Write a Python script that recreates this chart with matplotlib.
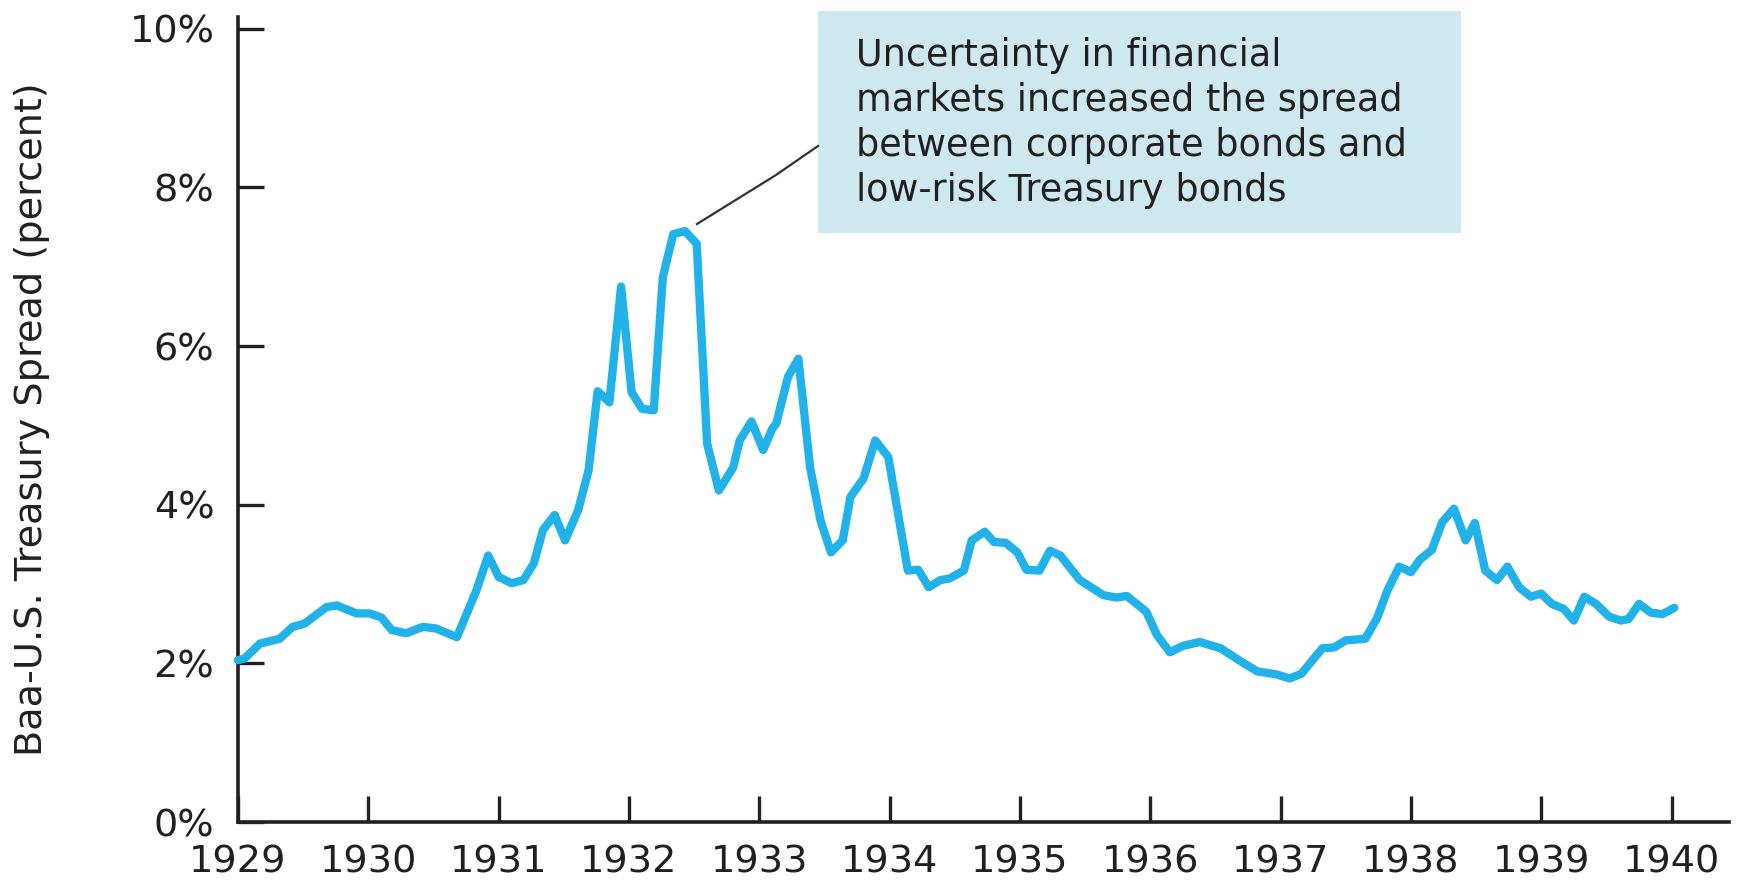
import matplotlib.pyplot as plt
from matplotlib.patches import Rectangle

# Baa - U.S. Treasury spread (decimal year, percent)
dates = [1929.00, 1929.05, 1929.17, 1929.32, 1929.42, 1929.51, 1929.68, 1929.76,
         1929.91, 1930.01, 1930.10, 1930.18, 1930.29, 1930.42, 1930.52, 1930.68,
         1930.83, 1930.92, 1931.00, 1931.10, 1931.19, 1931.27, 1931.34, 1931.43,
         1931.51, 1931.61, 1931.69, 1931.76, 1931.85, 1931.94, 1932.02, 1932.10,
         1932.19, 1932.26, 1932.34, 1932.43, 1932.52, 1932.60, 1932.69, 1932.80,
         1932.85, 1932.94, 1933.03, 1933.10, 1933.13, 1933.22, 1933.30, 1933.39,
         1933.47, 1933.55, 1933.64, 1933.70, 1933.80, 1933.89, 1933.99, 1934.14,
         1934.22, 1934.30, 1934.39, 1934.46, 1934.57, 1934.63, 1934.73, 1934.80,
         1934.89, 1934.98, 1935.05, 1935.15, 1935.23, 1935.31, 1935.46, 1935.64,
         1935.74, 1935.82, 1935.97, 1936.05, 1936.15, 1936.25, 1936.38, 1936.54,
         1936.69, 1936.82, 1936.97, 1937.07, 1937.16, 1937.32, 1937.41, 1937.50,
         1937.65, 1937.74, 1937.82, 1937.91, 1938.00, 1938.07, 1938.16, 1938.24,
         1938.33, 1938.42, 1938.49, 1938.57, 1938.66, 1938.74, 1938.83, 1938.92,
         1939.00, 1939.08, 1939.17, 1939.25, 1939.33, 1939.42, 1939.52, 1939.61,
         1939.67, 1939.75, 1939.84, 1939.93, 1940.02]
spread = [2.04, 2.06, 2.25, 2.31, 2.46, 2.50, 2.71, 2.73,
          2.63, 2.63, 2.58, 2.42, 2.38, 2.46, 2.44, 2.33,
          2.92, 3.36, 3.09, 3.01, 3.05, 3.26, 3.68, 3.87,
          3.55, 3.93, 4.43, 5.43, 5.29, 6.75, 5.42, 5.21,
          5.19, 6.87, 7.41, 7.45, 7.29, 4.77, 4.18, 4.47,
          4.81, 5.05, 4.69, 4.96, 5.02, 5.61, 5.84, 4.47,
          3.80, 3.40, 3.55, 4.10, 4.33, 4.81, 4.60, 3.17,
          3.18, 2.96, 3.05, 3.07, 3.17, 3.55, 3.66, 3.53,
          3.52, 3.40, 3.18, 3.17, 3.42, 3.36, 3.05, 2.86,
          2.83, 2.85, 2.65, 2.36, 2.14, 2.22, 2.27, 2.19,
          2.03, 1.90, 1.86, 1.81, 1.87, 2.19, 2.20, 2.29,
          2.31, 2.57, 2.92, 3.22, 3.15, 3.31, 3.43, 3.78,
          3.95, 3.55, 3.77, 3.17, 3.05, 3.22, 2.96, 2.84,
          2.88, 2.75, 2.69, 2.54, 2.84, 2.75, 2.59, 2.54,
          2.56, 2.75, 2.64, 2.62, 2.70]

years = list(range(1929, 1941))
pct_ticks = [0, 2, 4, 6, 8, 10]
note = ("Uncertainty in financial\nmarkets increased the spread\n"
        "between corporate bonds and\nlow-risk Treasury bonds")

ink = '#231f20'
plt.rcParams['font.family'] = ['DejaVu Sans']

fig = plt.figure(figsize=(17.38, 8.86), dpi=100)
ax = fig.add_axes([0.1369, 0.0722, 0.8579, 0.9088])

ax.plot(dates, spread, color='#20b2e8', linewidth=6.0,
        solid_joinstyle='round', solid_capstyle='round', clip_on=False, zorder=3)

ax.set_xlim(1929, 1940.44)
ax.set_ylim(0, 10.15)
ax.set_xticks(years)
ax.set_xticklabels([str(y) for y in years])
ax.set_yticks(pct_ticks)
ax.set_yticklabels([f'{v}%' for v in pct_ticks])

for side in ['top', 'right']:
    ax.spines[side].set_visible(False)
for side in ['left', 'bottom']:
    ax.spines[side].set_linewidth(2.6)
    ax.spines[side].set_color(ink)

ax.tick_params(axis='both', direction='in', length=19, width=2.4, color=ink,
               labelsize=27.5, labelcolor=ink)
ax.tick_params(axis='x', pad=16)
ax.tick_params(axis='y', pad=17)

ax.set_ylabel('Baa-U.S. Treasury Spread (percent)', fontsize=27.5, color=ink)
ax.yaxis.set_label_coords(-0.126, 0.5)

# callout box
fig.patches.append(Rectangle((0.4707, 0.737), 0.370, 0.2506,
                             transform=fig.transFigure, facecolor='#cde9ef',
                             edgecolor='none', zorder=0))
fig.text(0.4925, 0.958, note, fontsize=26.3, color=ink, va='top', ha='left',
         linespacing=1.27)

# leader line from the peak to the box
fig.lines.append(plt.Line2D([697 / 1738, 776 / 1738, 818 / 1738],
                            [1 - 224 / 886, 1 - 175 / 886, 1 - 146 / 886],
                            transform=fig.transFigure, color='#333333',
                            linewidth=1.6))

fig.savefig('out.png', dpi=100)
